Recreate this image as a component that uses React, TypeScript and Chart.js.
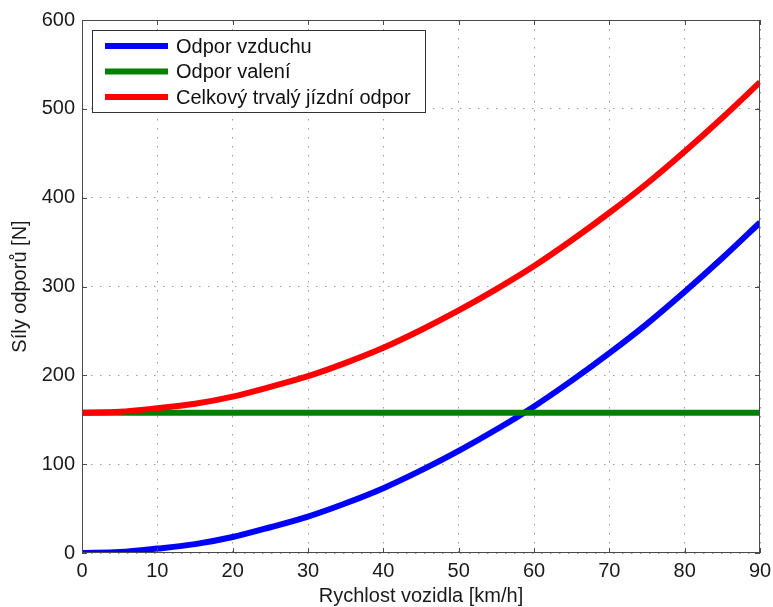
import React, { useEffect, useRef } from "react";
import { Chart, registerables, Plugin } from "chart.js";

Chart.register(...registerables);

// Vehicle speed [km/h]
const speeds = [0, 5, 10, 15, 20, 25, 30, 35, 40, 45, 50, 55, 60, 65, 70, 75, 80, 85, 90];
// Air resistance [N]
const airDrag = [0, 1, 5, 10, 18, 29, 41, 56, 73, 93, 115, 139, 165, 194, 225, 258, 294, 332, 372];
// Rolling resistance [N]
const rolling = [158, 158, 158, 158, 158, 158, 158, 158, 158, 158, 158, 158, 158, 158, 158, 158, 158, 158, 158];
// Total steady driving resistance [N]
const total = [158, 159, 163, 168, 176, 187, 199, 214, 231, 251, 273, 297, 323, 352, 383, 416, 452, 490, 530];

const xTicks = [0, 10, 20, 30, 40, 50, 60, 70, 80, 90];
const yTicks = [0, 100, 200, 300, 400, 500, 600];

const seriesLabels = ["Odpor vzduchu", "Odpor valení", "Celkový trvalý jízdní odpor"];
const seriesColors = ["#0000ff", "#008000", "#ff0000"];

const FONT = "'Liberation Sans', Arial, Helvetica, sans-serif";

const toPoints = (ys: number[]) => speeds.map((x, i) => ({ x, y: ys[i] }));

// Axes box with inward tick marks plus an in-plot legend box
const framePlugin: Plugin = {
  id: "frameAndLegend",
  afterDatasetsDraw(chart) {
    const { ctx, chartArea } = chart;
    const { left, right, top, bottom } = chartArea;
    const xs = chart.scales.x;
    const ys = chart.scales.y;
    ctx.save();
    ctx.strokeStyle = "#4a4a4a";
    ctx.lineWidth = 1;
    ctx.setLineDash([]);
    ctx.strokeRect(left + 0.5, top + 0.5, right - left - 1, bottom - top - 1);
    const tl = 5;
    ctx.beginPath();
    xTicks.forEach((v) => {
      const px = Math.round(xs.getPixelForValue(v)) + 0.5;
      ctx.moveTo(px, bottom);
      ctx.lineTo(px, bottom - tl);
      ctx.moveTo(px, top);
      ctx.lineTo(px, top + tl);
    });
    yTicks.forEach((v) => {
      const py = Math.round(ys.getPixelForValue(v)) + 0.5;
      ctx.moveTo(left, py);
      ctx.lineTo(left + tl, py);
      ctx.moveTo(right, py);
      ctx.lineTo(right - tl, py);
    });
    ctx.stroke();

    // legend
    const bx = left + 10;
    const by = top + 10;
    const bw = 333;
    const bh = 82;
    ctx.fillStyle = "#ffffff";
    ctx.fillRect(bx, by, bw, bh);
    ctx.strokeStyle = "#333333";
    ctx.lineWidth = 1;
    ctx.strokeRect(bx + 0.5, by + 0.5, bw, bh);
    ctx.font = `20px ${FONT}`;
    ctx.textBaseline = "middle";
    ctx.textAlign = "left";
    seriesLabels.forEach((label, i) => {
      const y = by + 16 + i * 25.5;
      ctx.strokeStyle = seriesColors[i];
      ctx.lineWidth = 6;
      ctx.beginPath();
      ctx.moveTo(bx + 13, y);
      ctx.lineTo(bx + 76, y);
      ctx.stroke();
      ctx.fillStyle = "#111111";
      ctx.fillText(label, bx + 84, y + 1);
    });
    ctx.restore();
  },
};

export default function App() {
  const canvasRef = useRef<HTMLCanvasElement | null>(null);

  useEffect(() => {
    const canvas = canvasRef.current;
    if (!canvas) return;
    const chart = new Chart(canvas, {
      type: "line",
      data: {
        datasets: [
          {
            label: seriesLabels[0],
            data: toPoints(airDrag),
            borderColor: seriesColors[0],
            borderWidth: 6,
            pointRadius: 0,
            cubicInterpolationMode: "monotone",
            order: 3,
          },
          {
            label: seriesLabels[1],
            data: toPoints(rolling),
            borderColor: seriesColors[1],
            borderWidth: 6,
            pointRadius: 0,
            order: 2,
          },
          {
            label: seriesLabels[2],
            data: toPoints(total),
            borderColor: seriesColors[2],
            borderWidth: 6,
            pointRadius: 0,
            cubicInterpolationMode: "monotone",
            order: 1,
          },
        ],
      },
      options: {
        responsive: false,
        animation: false,
        layout: { padding: { top: 20, right: 13, left: 0, bottom: 0 } },
        plugins: {
          legend: { display: false },
          tooltip: { enabled: false },
        },
        scales: {
          x: {
            type: "linear",
            min: 0,
            max: 90,
            afterFit: (s: any) => {
              s.height = 54;
              s.paddingLeft = 0;
              s.paddingRight = 0;
            },
            afterBuildTicks: (s: any) => {
              s.ticks = xTicks.map((value) => ({ value }));
            },
            grid: { color: "#9a9a9a", lineWidth: 1, drawTicks: false },
            border: { display: false, dash: [1.5, 7.5] },
            ticks: {
              padding: 6,
              color: "#1a1a1a",
              font: { family: FONT, size: 20 },
              maxRotation: 0,
            },
            title: {
              display: true,
              text: "Rychlost vozidla [km/h]",
              color: "#1a1a1a",
              font: { family: FONT, size: 20 },
              padding: { top: 0, bottom: -1 },
            },
          },
          y: {
            type: "linear",
            min: 0,
            max: 600,
            afterFit: (s: any) => {
              s.width = 82;
              s.paddingTop = 0;
              s.paddingBottom = 0;
            },
            afterBuildTicks: (s: any) => {
              s.ticks = yTicks.map((value) => ({ value }));
            },
            grid: { color: "#9a9a9a", lineWidth: 1, drawTicks: false },
            border: { display: false, dash: [1.5, 7.5] },
            ticks: {
              padding: 7,
              color: "#1a1a1a",
              font: { family: FONT, size: 20 },
            },
            title: {
              display: true,
              text: "Síly odporů [N]",
              color: "#1a1a1a",
              font: { family: FONT, size: 20 },
              padding: { top: 8, bottom: 0 },
            },
          },
        },
      },
      plugins: [framePlugin],
    });
    return () => chart.destroy();
  }, []);

  return (
    <div style={{ position: "absolute", left: 0, top: 0, width: 773, height: 607, background: "#fff" }}>
      <canvas ref={canvasRef} width={773} height={607} style={{ display: "block" }} />
    </div>
  );
}
